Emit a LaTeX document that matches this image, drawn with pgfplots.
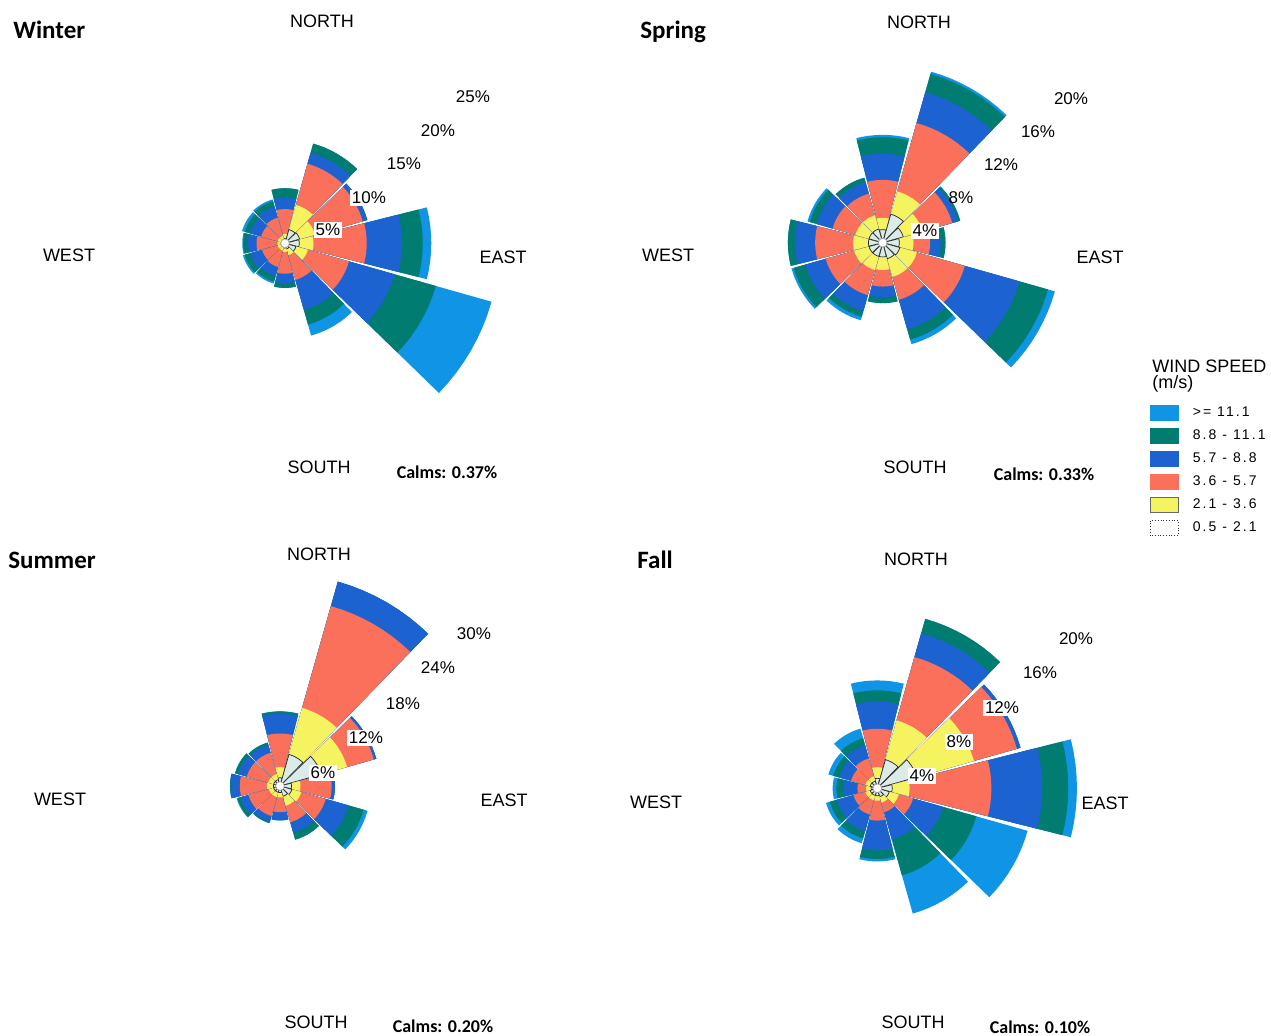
\documentclass[border=0pt]{standalone}
\usepackage{pgfplots}
\pgfplotsset{compat=1.18}
\usepackage{pgfplotstable}
\usepgfplotslibrary{polar}
\usepackage{fontspec}
\setmainfont{Liberation Sans}
\newfontfamily\carlito{Carlito}
\newfontfamily\legfont{Liberation Sans}[LetterSpace=15]

\definecolor{c6}{RGB}{16,148,230}
\definecolor{c5}{RGB}{0,125,112}
\definecolor{c4}{RGB}{28,98,208}
\definecolor{c3}{RGB}{250,112,90}
\definecolor{c2}{RGB}{245,243,95}
\definecolor{c1}{RGB}{218,235,232}

% frequency (%) per speed class: a=0.5-2.1 b=2.1-3.6 c=3.6-5.7 d=5.7-8.8 e=8.8-11.1 f=>=11.1
\pgfplotstableread{
dir a b c d e f
0   0.5 0.5 2.6 1.2 1.0 0.0
30  1.5 2.7 4.5 1.2 1.0 0.0
60  1.6 1.7 5.2 0.5 0.0 0.0
90  1.5 1.5 5.6 3.7 2.2 0.9
120 1.2 1.3 4.5 5.0 4.5 6.1
150 0.6 0.7 2.7 3.3 1.6 1.2
180 0.5 0.4 2.3 1.0 0.5 0.0
210 0.4 0.4 1.8 1.0 0.6 0.2
240 0.4 0.4 1.7 1.3 0.6 0.2
270 0.4 0.4 2.2 0.9 0.5 0.1
300 0.4 0.4 1.8 1.2 0.6 0.3
330 0.4 0.4 2.0 1.2 0.6 0.2
}\winterdata
\pgfplotstableread{
dir a b c d e f
0   1.1 1.0 3.2 2.2 1.4 0.2
30  2.5 2.0 6.0 2.7 1.6 0.2
60  1.8 1.7 2.6 0.5 0.2 0.0
90  1.4 1.2 1.4 0.9 0.4 0.0
120 1.5 1.5 4.2 4.8 2.5 0.6
150 1.4 1.6 2.0 2.6 0.9 0.4
180 1.2 1.1 1.4 0.9 0.5 0.0
210 1.2 1.2 2.2 1.4 0.5 0.3
240 1.2 1.3 2.5 1.8 1.0 0.2
270 1.2 1.3 3.2 1.7 0.6 0.0
300 1.2 1.2 2.0 1.4 0.6 0.2
330 1.2 1.2 1.9 1.0 0.4 0.0
}\springdata
\pgfplotstableread{
dir a b c d e f
0   1.0 1.3 4.1 2.4 0.3 0.0
30  4.0 5.9 12.9 3.1 0.0 0.0
60  5.2 3.3 3.4 0.3 0.0 0.0
90  1.4 1.1 3.8 0.4 0.0 0.0
120 1.5 1.2 3.1 2.9 1.9 0.5
150 1.3 1.2 2.1 1.3 0.9 0.0
180 0.8 0.6 1.8 0.9 0.1 0.0
210 0.8 0.6 2.4 0.7 0.2 0.0
240 0.8 0.6 2.6 1.0 0.4 0.1
270 0.8 0.8 3.3 1.1 0.1 0.0
300 0.8 0.7 2.7 1.1 0.4 0.0
330 0.8 0.7 2.7 1.0 0.3 0.0
}\summerdata
\pgfplotstableread{
dir a b c d e f
0   0.8 0.9 3.1 2.2 0.9 0.8
30  2.4 3.3 5.3 2.0 1.2 0.0
60  3.3 4.8 3.6 0.3 0.0 0.0
90  1.2 1.4 6.6 4.1 2.1 0.7
120 1.0 0.8 1.2 2.5 2.8 4.3
150 0.7 0.5 0.8 2.3 3.0 3.2
180 0.6 0.4 1.6 2.4 0.7 0.2
210 0.6 0.4 1.2 1.4 0.6 0.4
240 0.6 0.4 1.0 1.4 0.6 0.3
270 0.5 0.4 0.7 1.1 0.6 0.3
300 0.6 0.4 1.2 1.0 0.5 0.4
330 0.6 0.4 1.5 1.1 0.6 0.8
}\falldata

% one sector from the centre out to radius #1 (polar input: angle, radius)
\newcommand\petal[2]{%
  \edef\tmp{\noexpand\addplot[forget plot, data cs=polar, draw=none, #2]
    coordinates {(0,0) (\tA,#1) (\tB,#1) (\tC,#1) (\tD,#1) (\tE,#1) (\tF,#1) (\tG,#1) (\tH,#1) (\tI,#1) (0,0)};}%
  \tmp}

\newcommand\drawrose[1]{%
  \pgfplotstablegetrowsof{#1}%
  \pgfmathtruncatemacro\rosen{\pgfplotsretval-1}%
  \pgfplotsforeachungrouped \i in {0,...,\rosen}{%
    \pgfplotstablegetelem{\i}{dir}\of{#1}\let\dd\pgfplotsretval
    \pgfplotstablegetelem{\i}{a}\of{#1}\pgfmathsetmacro\cA{\pgfplotsretval}%
    \pgfplotstablegetelem{\i}{b}\of{#1}\pgfmathsetmacro\cB{\cA+\pgfplotsretval}%
    \pgfplotstablegetelem{\i}{c}\of{#1}\pgfmathsetmacro\cC{\cB+\pgfplotsretval}%
    \pgfplotstablegetelem{\i}{d}\of{#1}\pgfmathsetmacro\cD{\cC+\pgfplotsretval}%
    \pgfplotstablegetelem{\i}{e}\of{#1}\pgfmathsetmacro\cE{\cD+\pgfplotsretval}%
    \pgfplotstablegetelem{\i}{f}\of{#1}\pgfmathsetmacro\cF{\cE+\pgfplotsretval}%
    \pgfmathsetmacro\ph{90-\dd}%
    \pgfmathsetmacro\tA{\ph-14.2}\pgfmathsetmacro\tB{\ph-10.65}%
    \pgfmathsetmacro\tC{\ph-7.1}\pgfmathsetmacro\tD{\ph-3.55}%
    \pgfmathsetmacro\tE{\ph}\pgfmathsetmacro\tF{\ph+3.55}%
    \pgfmathsetmacro\tG{\ph+7.1}\pgfmathsetmacro\tH{\ph+10.65}%
    \pgfmathsetmacro\tI{\ph+14.2}%
    \petal{\cF}{fill=c6}%
    \petal{\cE}{fill=c5}%
    \petal{\cD}{fill=c4}%
    \petal{\cC}{fill=c3}%
    \petal{\cB}{fill=c2}%
    \petal{\cA}{fill=c1, draw=black!85, line width=0.35bp}%
  }%
  \addplot[forget plot, only marks, mark=*, mark size=2.2bp,
    mark options={fill=white, draw=gray!70, line width=0.4bp}] coordinates {(0,0)};%
}

\pgfplotsset{rose/.style={hide axis, anchor=center, scale only axis,
  xmin=-1, xmax=1, ymin=-1, ymax=1, clip=false}}
\tikzset{
  dirlab/.style={font=\fontsize{9bp}{10bp}\selectfont, inner sep=0pt},
  pct/.style={font=\fontsize{8.5bp}{10bp}\selectfont, inner sep=0.8bp},
  pctw/.style={pct, fill=white},
  ttl/.style={font=\carlito\bfseries\fontsize{12.5bp}{14bp}\selectfont, inner sep=0pt, anchor=west},
  calm/.style={font=\carlito\bfseries\fontsize{9bp}{10bp}\selectfont, inner sep=0pt},
}

\begin{document}
\begin{tikzpicture}
\useasboundingbox (0,0) rectangle (635.5bp,518bp);
\clip (0,0) rectangle (635.5bp,518bp);

% ---------- Winter
\begin{axis}[rose, at={(142.5bp,396.35bp)}, x=4.75bp, y=4.75bp]
\drawrose{\winterdata}
\end{axis}
\node[ttl] at (6.5bp,503bp) {Winter};
\node[dirlab] at (161bp,507.5bp) {NORTH};
\node[dirlab] at (34.5bp,390.5bp) {WEST};
\node[dirlab] at (251.5bp,389.5bp) {EAST};
\node[dirlab] at (159.5bp,284.5bp) {SOUTH};
\node[calm] at (223.5bp,282bp) {Calms: 0.37\%};
\node[pct] at (236.5bp,469.5bp) {25\%};
\node[pct] at (219bp,452.5bp) {20\%};
\node[pct] at (202bp,436bp) {15\%};
\node[pctw] at (184.5bp,419bp) {10\%};
\node[pctw] at (164bp,403bp) {5\%};

% ---------- Spring
\begin{axis}[rose, at={(441.35bp,396.65bp)}, x=5.925bp, y=5.925bp]
\drawrose{\springdata}
\end{axis}
\node[ttl] at (320bp,502bp) {Spring};
\node[dirlab] at (459.5bp,507bp) {NORTH};
\node[dirlab] at (334bp,390.5bp) {WEST};
\node[dirlab] at (550bp,389.5bp) {EAST};
\node[dirlab] at (457.5bp,284.5bp) {SOUTH};
\node[calm] at (522bp,281bp) {Calms: 0.33\%};
\node[pct] at (535.5bp,468.5bp) {20\%};
\node[pct] at (519bp,452bp) {16\%};
\node[pct] at (500.5bp,435.5bp) {12\%};
\node[pct] at (480.5bp,419bp) {8\%};
\node[pctw] at (462.5bp,402.5bp) {4\%};

% ---------- Summer
\begin{axis}[rose, at={(140bp,125bp)}, x=4.1bp, y=4.1bp]
\drawrose{\summerdata}
\end{axis}
\node[ttl] at (4bp,238bp) {Summer};
\node[dirlab] at (159.5bp,241bp) {NORTH};
\node[dirlab] at (30bp,118.5bp) {WEST};
\node[dirlab] at (252bp,118bp) {EAST};
\node[dirlab] at (158bp,7bp) {SOUTH};
\node[calm] at (221.5bp,5bp) {Calms: 0.20\%};
\node[pct] at (237bp,201bp) {30\%};
\node[pct] at (219bp,184bp) {24\%};
\node[pct] at (201.5bp,166bp) {18\%};
\node[pctw] at (183bp,149bp) {12\%};
\node[pctw] at (161.5bp,131.5bp) {6\%};

% ---------- Fall
\begin{axis}[rose, at={(438.65bp,123.85bp)}, x=6.2bp, y=6.2bp]
\drawrose{\falldata}
\end{axis}
\node[ttl] at (318.5bp,238bp) {Fall};
\node[dirlab] at (458bp,238.5bp) {NORTH};
\node[dirlab] at (328bp,117bp) {WEST};
\node[dirlab] at (552.5bp,116.5bp) {EAST};
\node[dirlab] at (456.5bp,7bp) {SOUTH};
\node[calm] at (520bp,4.5bp) {Calms: 0.10\%};
\node[pct] at (538bp,198.5bp) {20\%};
\node[pct] at (520bp,181.5bp) {16\%};
\node[pctw] at (501bp,164bp) {12\%};
\node[pctw] at (479.5bp,147bp) {8\%};
\node[pctw] at (461bp,130bp) {4\%};

% ---------- legend
\node[dirlab, anchor=west] at (576bp,335bp) {WIND SPEED};
\node[dirlab, anchor=west] at (576bp,326bp) {(m/s)};
\begin{axis}[hide axis, scale only axis, width=2bp, height=2bp,
  at={(575bp,315.5bp)}, anchor=north west,
  xmin=0, xmax=1, ymin=0, ymax=1,
  legend cell align=left,
  legend style={at={(0,1)}, anchor=north west, draw=none, fill=none,
    inner sep=0pt, outer sep=0pt, row sep=3.6bp,
    nodes={inner sep=0.5bp},
    font=\legfont\fontsize{7bp}{8bp}\selectfont,
    /tikz/every odd column/.append style={column sep=6.5bp}},
  legend image code/.code={\draw[#1, line width=0.4bp] (0bp,-3.75bp) rectangle (14bp,3.75bp);}]
\addlegendimage{fill=c6, draw=c6}\addlegendentry{>= 11.1}
\addlegendimage{fill=c5, draw=c5}\addlegendentry{8.8 - 11.1}
\addlegendimage{fill=c4, draw=c4}\addlegendentry{5.7 - 8.8}
\addlegendimage{fill=c3, draw=c3}\addlegendentry{3.6 - 5.7}
\addlegendimage{fill=c2, draw=black!60}\addlegendentry{2.1 - 3.6}
\addlegendimage{fill=white, draw=black!80, densely dotted}\addlegendentry{0.5 - 2.1}
\end{axis}
\end{tikzpicture}
\end{document}
